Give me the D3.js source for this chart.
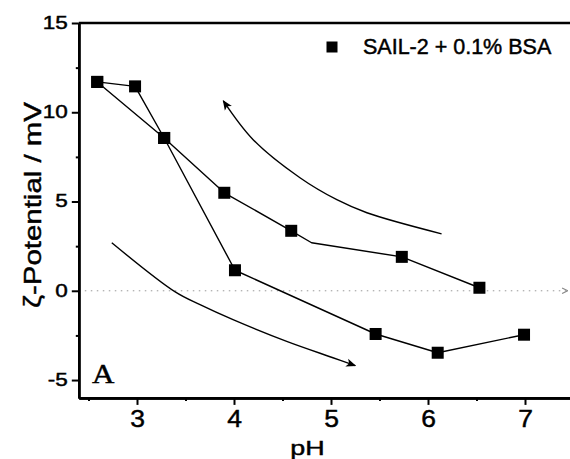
<!DOCTYPE html>
<html>
<head>
<meta charset="utf-8">
<script src="https://cdn.jsdelivr.net/npm/d3@7"></script>
<style>
  html, body { margin: 0; padding: 0; background: #fff; }
  svg { display: block; }
  text { font-family: "Liberation Sans", Arial, sans-serif; fill: #000; stroke: #000; stroke-width: 0.45px; }
</style>
</head>
<body>
<svg id="chart" width="570" height="459"></svg>
<script>
// ---- data ----
const xTicks = [3, 4, 5, 6, 7];
const xMinorTicks = [2.5, 3.5, 4.5, 5.5, 6.5, 7.5];
const yTicks = [-5, 0, 5, 10, 15];
const yMinorTicks = [-2.5, 2.5, 7.5, 12.5];
const legendLabel = "SAIL-2 + 0.1% BSA";
const xLabel = "pH";
const yLabel = "ζ-Potential / mV";
const panelLabel = "A";

// branch through the low-pH points down to negative values
const seriesDown = [
  { ph: 2.59, zeta: 11.70 },
  { ph: 2.98, zeta: 11.45 },
  { ph: 3.28, zeta: 8.56 },
  { ph: 4.01, zeta: 1.15 },
  { ph: 5.46, zeta: -2.42 },
  { ph: 6.10, zeta: -3.47 },
  { ph: 6.99, zeta: -2.46 }
];
// upper branch (the bend vertex at 4.80 carries no marker)
const seriesUp = [
  { ph: 2.59, zeta: 11.70, marker: true },
  { ph: 3.28, zeta: 8.56, marker: true },
  { ph: 3.90, zeta: 5.49, marker: true },
  { ph: 4.59, zeta: 3.36, marker: true },
  { ph: 4.80, zeta: 2.69, marker: false },
  { ph: 5.73, zeta: 1.90, marker: true },
  { ph: 6.53, zeta: 0.17, marker: true }
];
// annotation arrows (data coordinates)
const arrowUpper = [
  { ph: 6.14, zeta: 3.19 }, { ph: 5.37, zeta: 4.37 }, { ph: 5.06, zeta: 5.10 },
  { ph: 4.68, zeta: 6.33 }, { ph: 4.20, zeta: 8.45 }, { ph: 3.89, zeta: 10.64 }
];
const arrowLower = [
  { ph: 2.74, zeta: 2.69 }, { ph: 3.39, zeta: -0.05 }, { ph: 3.65, zeta: -0.78 },
  { ph: 3.99, zeta: -1.62 }, { ph: 4.55, zeta: -2.85 }, { ph: 5.02, zeta: -3.75 },
  { ph: 5.25, zeta: -4.19 }
];
const zeroLine = [{ ph: 2.4, zeta: 0 }, { ph: 7.44, zeta: 0 }];

// ---- layout ----
const svg = d3.select("#chart");
const x = d3.scaleLinear().domain([2.4, 7.5]).range([78.8, 573.5]);
const y = d3.scaleLinear().domain([-6, 15]).range([397.9, 23]);

const defs = svg.append("defs");
defs.append("marker").attr("id", "arrowFill")
  .attr("viewBox", "0 0 10 10").attr("refX", 9).attr("refY", 5)
  .attr("markerWidth", 10).attr("markerHeight", 10).attr("markerUnits", "userSpaceOnUse")
  .attr("orient", "auto")
  .append("path").attr("d", "M0,0.8 L10,5 L0,9.2 L2.5,5 Z").attr("fill", "#000");
defs.append("marker").attr("id", "arrowOpen")
  .attr("viewBox", "0 0 10 10").attr("refX", 9).attr("refY", 5)
  .attr("markerWidth", 7).attr("markerHeight", 7).attr("markerUnits", "userSpaceOnUse")
  .attr("orient", "auto")
  .append("path").attr("d", "M1,1 L9,5 L1,9").attr("fill", "none")
  .attr("stroke", "#888").attr("stroke-width", 1.5);

// zero reference line
svg.append("path")
  .attr("d", d3.line().x(d => x(d.ph)).y(d => y(d.zeta))(zeroLine))
  .attr("fill", "none").attr("stroke", "#999").attr("stroke-width", 1)
  .attr("stroke-dasharray", "1.5,4.5")
  .attr("marker-end", "url(#arrowOpen)");

// frame top line
svg.append("line")
  .attr("x1", x(2.4)).attr("x2", x(7.5))
  .attr("y1", y(15)).attr("y2", y(15))
  .attr("stroke", "#000").attr("stroke-width", 2.6);

// axes
const fmt = d => String(d);
function styleAxis(g) {
  g.select(".domain").attr("stroke", "#000").attr("stroke-width", 2.6);
  g.selectAll(".tick line").attr("stroke", "#000").attr("stroke-width", 2);
}
const gxMinor = svg.append("g").attr("transform", `translate(0,${y(-6)})`)
  .call(d3.axisBottom(x).tickValues(xMinorTicks).tickSize(3).tickSizeOuter(0).tickFormat(""));
styleAxis(gxMinor);
const gx = svg.append("g").attr("transform", `translate(0,${y(-6)})`)
  .call(d3.axisBottom(x).tickValues(xTicks).tickSize(7).tickSizeOuter(0).tickPadding(6).tickFormat(fmt));
styleAxis(gx);
gx.selectAll(".tick text").attr("font-size", 23).attr("dy", "0.71em").attr("data-sx", 1.15)
  .style("font-family", '"Liberation Sans", Arial, sans-serif');

const gyMinor = svg.append("g").attr("transform", `translate(${x(2.4)},0)`)
  .call(d3.axisLeft(y).tickValues(yMinorTicks).tickSize(3).tickSizeOuter(0).tickFormat(""));
styleAxis(gyMinor);
const gy = svg.append("g").attr("transform", `translate(${x(2.4)},0)`)
  .call(d3.axisLeft(y).tickValues(yTicks).tickSize(7).tickSizeOuter(0).tickPadding(4).tickFormat(fmt));
styleAxis(gy);
gy.selectAll(".tick text").attr("font-size", 18).attr("dy", "0.3em").attr("data-sx", 1.25)
  .style("font-family", '"Liberation Sans", Arial, sans-serif');

// data lines
const line = d3.line().x(d => x(d.ph)).y(d => y(d.zeta));
[seriesDown, seriesUp].forEach(s => {
  svg.append("path").attr("d", line(s))
    .attr("fill", "none").attr("stroke", "#000").attr("stroke-width", 1.4)
    .attr("stroke-linejoin", "round");
});

// annotation arrows
const curve = d3.line().x(d => x(d.ph)).y(d => y(d.zeta)).curve(d3.curveCatmullRom);
[arrowUpper, arrowLower].forEach(a => {
  svg.append("path").attr("d", curve(a))
    .attr("fill", "none").attr("stroke", "#000").attr("stroke-width", 1.4)
    .attr("marker-end", "url(#arrowFill)");
});

// markers
const ms = 12;
const pts = seriesDown.concat(seriesUp.filter(d => d.marker));
svg.append("g").selectAll("rect").data(pts).join("rect")
  .attr("x", d => x(d.ph) - ms / 2).attr("y", d => y(d.zeta) - ms / 2)
  .attr("width", ms).attr("height", ms).attr("fill", "#000");

// legend
svg.append("rect").attr("x", 326.5).attr("y", 41.5).attr("width", 11).attr("height", 11).attr("fill", "#000");
svg.append("text").attr("x", 363).attr("y", 53.5).attr("font-size", 21.5).text(legendLabel);

// panel label
svg.append("text").attr("x", 92).attr("y", 383)
  .style("font-family", '"Liberation Serif", "Times New Roman", serif')
  .attr("font-size", 27).attr("data-sx", 1.15).text(panelLabel);

// axis titles
svg.append("text").attr("x", 307.5).attr("y", 455).attr("text-anchor", "middle")
  .attr("font-size", 21).attr("data-sx", 1.28).text(xLabel);
svg.append("text").attr("transform", "rotate(-90)")
  .attr("x", -205).attr("y", 41).attr("text-anchor", "middle")
  .attr("font-size", 24).attr("data-len", 206).text(yLabel);

// horizontal stretch of glyphs to match the reference typography
svg.selectAll("text").each(function () {
  const el = d3.select(this);
  const sx = el.attr("data-sx");
  const L = el.attr("data-len");
  if (sx || L) {
    const len = this.getComputedTextLength();
    el.attr("textLength", L ? +L : len * +sx).attr("lengthAdjust", "spacingAndGlyphs");
  }
});
</script>
</body>
</html>
